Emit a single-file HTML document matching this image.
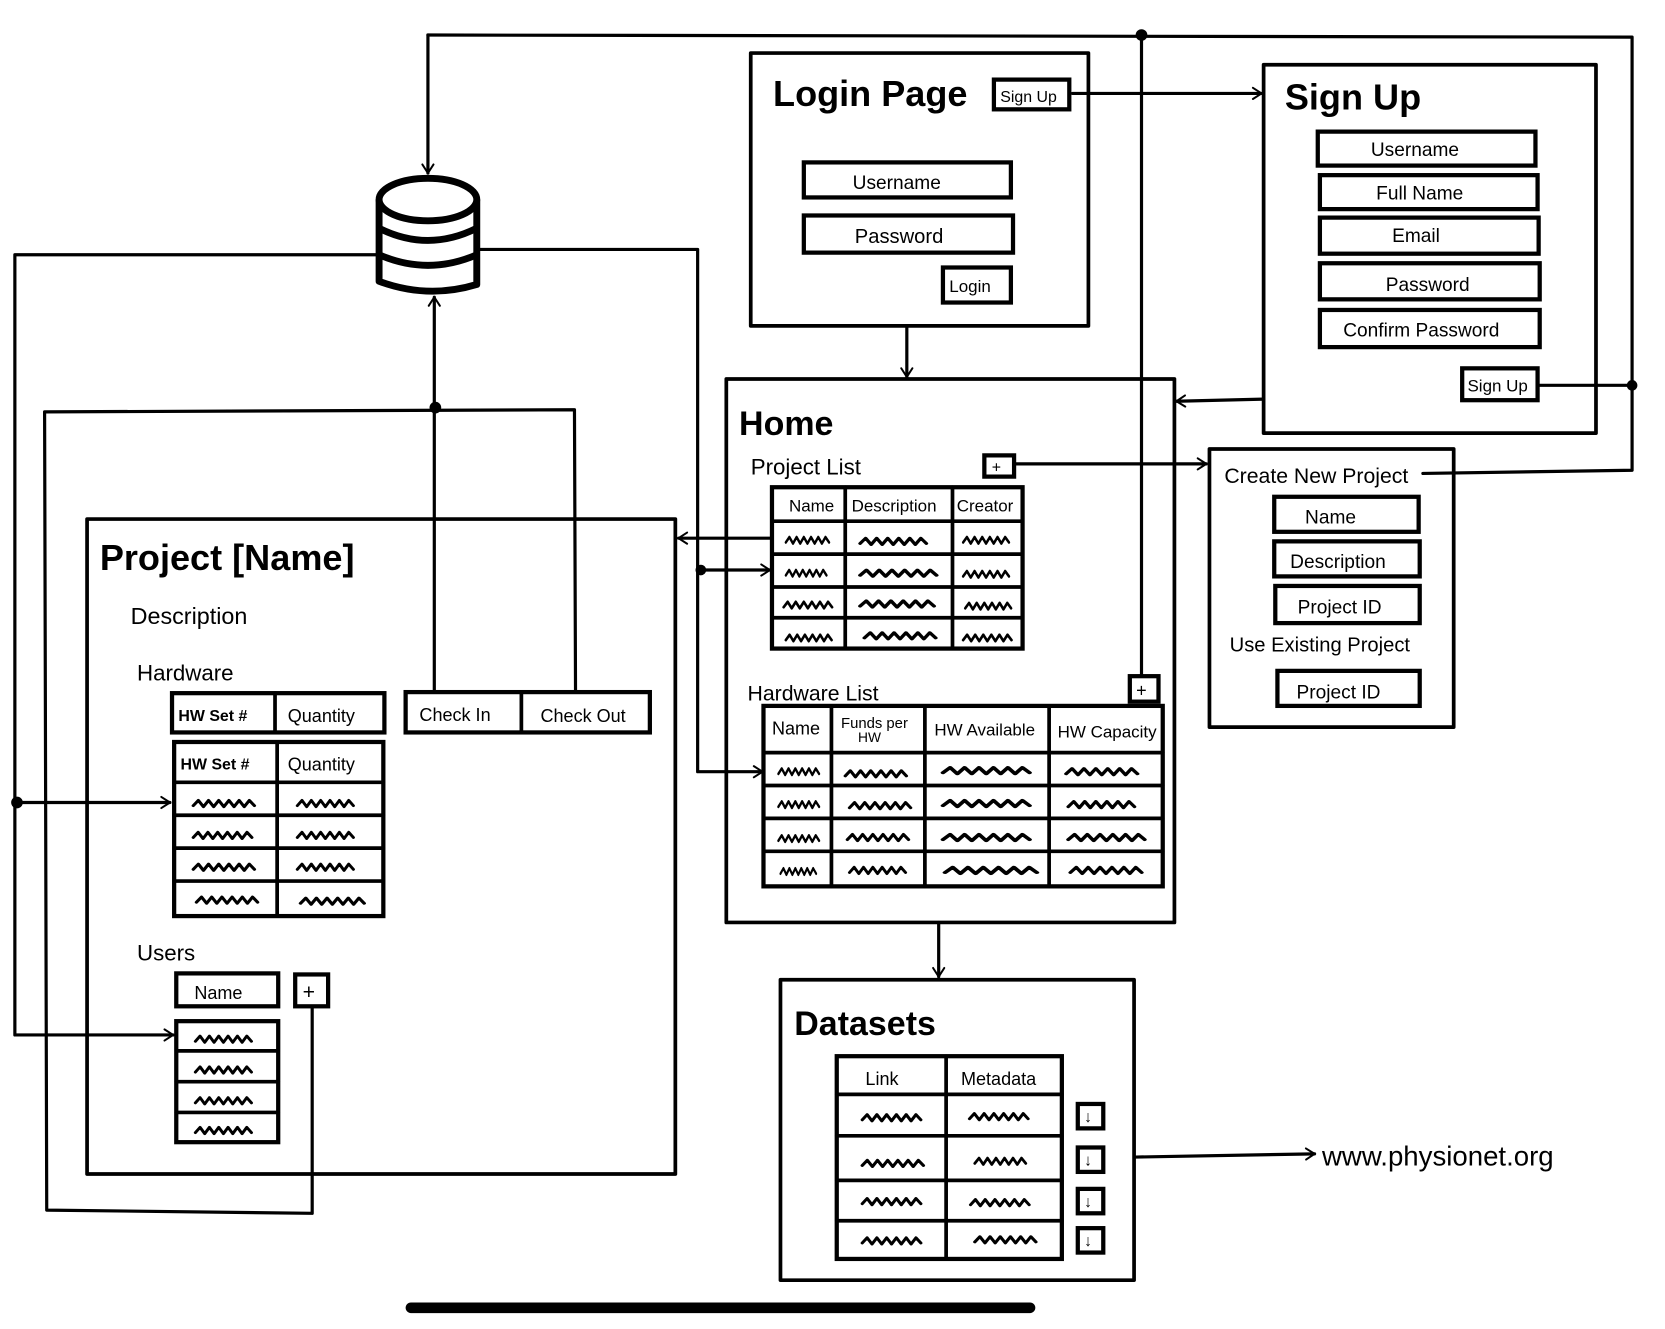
<!DOCTYPE html>
<html><head><meta charset="utf-8"><style>
html,body{margin:0;padding:0;background:#fff;}
svg{display:block;}
text{font-family:"Liberation Sans",sans-serif;fill:#000;}
.b{fill:none;stroke:#000;stroke-width:3.5;stroke-linejoin:round;stroke-linecap:round;}
.t{fill:#fff;stroke:#000;stroke-width:4;}
.l{fill:none;stroke:#000;stroke-width:3;stroke-linecap:round;stroke-linejoin:round;}
.z{fill:none;stroke:#000;stroke-width:2.6;stroke-linecap:round;stroke-linejoin:round;}
</style></head><body>
<svg width="1665" height="1329" viewBox="0 0 1568 1252" preserveAspectRatio="none" xmlns="http://www.w3.org/2000/svg">
<defs>
<path id="zz" class="z" d="M0,3 l4,-5 l4,6 l4,-6 l4,6 l4,-6 l4,6 l4,-6 l4,6 l4,-6 l4,6 l4,-6 l4,5"/>
<marker id="ar" viewBox="0 0 20 20" refX="18" refY="10" markerWidth="9" markerHeight="9" markerUnits="userSpaceOnUse" orient="auto" overflow="visible">
<path d="M4,1 L18,10 L4,19" fill="none" stroke="#000" stroke-width="3.2" stroke-linecap="round" stroke-linejoin="round" transform="scale(1.3) translate(-4,-2.3)"/>
</marker>
</defs>

<!-- connectors -->
<polyline class="l" points="403,33 1537,35 1537,443 1340,446"/>
<line class="l" x1="403" y1="33" x2="403" y2="163" marker-end="url(#ar)"/>
<line class="l" x1="1450" y1="363" x2="1537" y2="363"/>
<circle cx="1537" cy="363" r="5"/>
<circle cx="1075" cy="33" r="5.5"/>
<line class="l" x1="1075" y1="33" x2="1075" y2="637"/>
<polyline class="l" points="357,240 14,240 14,975 163,975" marker-end="url(#ar)"/>
<line class="l" x1="16" y1="756" x2="160" y2="756" marker-end="url(#ar)"/>
<circle cx="16" cy="756" r="5.5"/>
<polyline class="l" points="451,235 657,235 657,727 718,727" marker-end="url(#ar)"/>
<line class="l" x1="660" y1="537" x2="725" y2="537" marker-end="url(#ar)"/>
<circle cx="660" cy="537" r="5"/>
<line class="l" x1="760" y1="507" x2="639" y2="507" marker-end="url(#ar)"/>
<line class="l" x1="409" y1="652" x2="409" y2="280" marker-end="url(#ar)"/>
<circle cx="410" cy="384" r="5.5"/>
<polyline class="l" points="542,652 541,386 42,388 44,1140 294,1143 294,948"/>
<line class="l" x1="1010" y1="88" x2="1188" y2="88" marker-end="url(#ar)"/>
<line class="l" x1="1190" y1="376" x2="1108" y2="378" marker-end="url(#ar)"/>
<line class="l" x1="955" y1="437" x2="1136" y2="437" marker-end="url(#ar)"/>
<line class="l" x1="854" y1="307" x2="854" y2="355" marker-end="url(#ar)"/>
<line class="l" x1="884" y1="869" x2="884" y2="920" marker-end="url(#ar)"/>
<line class="l" x1="1070" y1="1090" x2="1238" y2="1087" marker-end="url(#ar)"/>

<!-- database -->
<g fill="none" stroke="#000" stroke-width="6.5" stroke-linejoin="round">
<path d="M357,188 L357,265 Q403,282 449,268 L449,188" fill="#fff"/>
<ellipse cx="403" cy="188" rx="46" ry="20" fill="#fff"/>
<path d="M357,215 Q403,238 449,215"/>
<path d="M357,240 Q403,260 449,240"/>
</g>

<!-- Project box -->
<rect class="b" x="82" y="489" width="554" height="617" fill="none"/>
<text x="94" y="537" font-size="34" font-weight="bold">Project [Name]</text>
<text x="123" y="588" font-size="22">Description</text>
<text x="129" y="641" font-size="21">Hardware</text>
<rect class="t" x="162" y="653" width="200" height="37"/>
<line class="b" x1="259" y1="653" x2="259" y2="690"/>
<text x="168" y="679" font-size="15" font-weight="bold">HW Set #</text>
<text x="271" y="680" font-size="17">Quantity</text>
<rect class="t" x="382" y="652" width="230" height="38"/>
<line class="b" x1="491" y1="652" x2="491" y2="690"/>
<text x="395" y="679" font-size="17">Check In</text>
<text x="509" y="680" font-size="17">Check Out</text>
<rect class="t" x="164" y="699" width="197" height="164"/>
<g class="b"><line x1="164" y1="737" x2="361" y2="737"/><line x1="164" y1="768" x2="361" y2="768"/><line x1="164" y1="799" x2="361" y2="799"/><line x1="164" y1="830" x2="361" y2="830"/><line x1="261" y1="699" x2="261" y2="863"/></g>
<text x="170" y="725" font-size="15" font-weight="bold">HW Set #</text>
<text x="271" y="726" font-size="17">Quantity</text>
<use href="#zz" transform="translate(182,756) scale(1.2,1)"/><use href="#zz" transform="translate(280,756) scale(1.1,1)"/>
<use href="#zz" transform="translate(182,786) scale(1.15,1)"/><use href="#zz" transform="translate(280,786) scale(1.1,1)"/>
<use href="#zz" transform="translate(182,816) scale(1.2,1)"/><use href="#zz" transform="translate(280,816) scale(1.1,1)"/>
<use href="#zz" transform="translate(185,847) scale(1.2,1)"/><use href="#zz" transform="translate(283,848) scale(1.25,1)"/>
<text x="129" y="905" font-size="21">Users</text>
<rect class="t" x="166" y="917" width="96" height="31"/>
<text x="183" y="941" font-size="17">Name</text>
<rect class="t" x="278" y="918" width="31" height="30"/>
<text x="285" y="941" font-size="20">+</text>
<rect class="t" x="166" y="962" width="96" height="114"/>
<g class="b"><line x1="166" y1="990" x2="262" y2="990"/><line x1="166" y1="1019" x2="262" y2="1019"/><line x1="166" y1="1048" x2="262" y2="1048"/></g>
<use href="#zz" transform="translate(184,978) scale(1.1,1)"/><use href="#zz" transform="translate(184,1007) scale(1.1,1)"/><use href="#zz" transform="translate(184,1036) scale(1.1,1)"/><use href="#zz" transform="translate(184,1064) scale(1.1,1)"/>

<!-- Login -->
<rect class="b" x="707" y="50" width="318" height="257" fill="#fff"/>
<text x="728" y="100" font-size="34" font-weight="bold">Login Page</text>
<rect class="t" x="936" y="75" width="71" height="28"/>
<text x="942" y="96" font-size="15">Sign Up</text>
<rect class="t" x="757" y="153" width="195" height="33"/>
<text x="803" y="178" font-size="18">Username</text>
<rect class="t" x="757" y="203" width="197" height="35"/>
<text x="805" y="229" font-size="19">Password</text>
<rect class="t" x="888" y="252" width="64" height="33"/>
<text x="894" y="275" font-size="16">Login</text>

<!-- Sign Up -->
<rect class="b" x="1190" y="61" width="313" height="347" fill="none"/>
<text x="1210" y="103" font-size="34" font-weight="bold">Sign Up</text>
<rect class="t" x="1241" y="124" width="205" height="32"/><text x="1291" y="147" font-size="18">Username</text>
<rect class="t" x="1243" y="165" width="205" height="32"/><text x="1296" y="188" font-size="18">Full Name</text>
<rect class="t" x="1243" y="205" width="206" height="34"/><text x="1311" y="228" font-size="18">Email</text>
<rect class="t" x="1243" y="248" width="207" height="34"/><text x="1305" y="274" font-size="18">Password</text>
<rect class="t" x="1243" y="292" width="207" height="35"/><text x="1265" y="317" font-size="18">Confirm Password</text>
<rect class="t" x="1377" y="347" width="71" height="30"/><text x="1382" y="369" font-size="16">Sign Up</text>

<!-- Home -->
<rect class="b" x="684" y="357" width="422" height="512" fill="none"/>
<text x="696" y="410" font-size="32" font-weight="bold">Home</text>
<text x="707" y="447" font-size="21">Project List</text>
<rect class="t" x="927" y="429" width="28" height="20"/><text x="934" y="445" font-size="15">+</text>
<rect class="t" x="727" y="459" width="236" height="152"/>
<g class="b"><line x1="727" y1="491" x2="963" y2="491"/><line x1="727" y1="522" x2="963" y2="522"/><line x1="727" y1="553" x2="963" y2="553"/><line x1="727" y1="582" x2="963" y2="582"/><line x1="796" y1="459" x2="796" y2="611"/><line x1="897" y1="459" x2="897" y2="611"/></g>
<text x="743" y="482" font-size="16">Name</text><text x="802" y="482" font-size="16">Description</text><text x="901" y="482" font-size="16">Creator</text>
<use href="#zz" transform="translate(740,508) scale(0.85,1)"/><use href="#zz" transform="translate(810,509) scale(1.3,1)"/><use href="#zz" transform="translate(907,508) scale(0.9,1)"/>
<use href="#zz" transform="translate(740,539) scale(0.8,1)"/><use href="#zz" transform="translate(810,539) scale(1.5,1)"/><use href="#zz" transform="translate(907,540) scale(0.9,1)"/>
<use href="#zz" transform="translate(738,569) scale(0.95,1)"/><use href="#zz" transform="translate(810,568) scale(1.45,1)"/><use href="#zz" transform="translate(909,570) scale(0.9,1)"/>
<use href="#zz" transform="translate(740,600) scale(0.9,1)"/><use href="#zz" transform="translate(814,598) scale(1.4,1)"/><use href="#zz" transform="translate(907,600) scale(0.95,1)"/>
<text x="704" y="660" font-size="20">Hardware List</text>
<rect class="t" x="1064" y="637" width="27" height="24"/><text x="1070" y="656" font-size="17">+</text>
<rect class="t" x="719" y="665" width="376" height="170"/>
<g class="b"><line x1="719" y1="709" x2="1095" y2="709"/><line x1="719" y1="740" x2="1095" y2="740"/><line x1="719" y1="771" x2="1095" y2="771"/><line x1="719" y1="802" x2="1095" y2="802"/><line x1="783" y1="665" x2="783" y2="835"/><line x1="871" y1="665" x2="871" y2="835"/><line x1="988" y1="665" x2="988" y2="835"/></g>
<text x="727" y="692" font-size="17">Name</text>
<text x="792" y="686" font-size="14">Funds per</text><text x="808" y="699" font-size="13">HW</text>
<text x="880" y="693" font-size="16">HW Available</text><text x="996" y="695" font-size="16">HW Capacity</text>
<use href="#zz" transform="translate(733,726) scale(0.8,1)"/><use href="#zz" transform="translate(796,728) scale(1.2,1)"/><use href="#zz" transform="translate(888,725) scale(1.7,1)"/><use href="#zz" transform="translate(1004,726) scale(1.4,1)"/>
<use href="#zz" transform="translate(733,757) scale(0.8,1)"/><use href="#zz" transform="translate(800,758) scale(1.2,1)"/><use href="#zz" transform="translate(888,756) scale(1.7,1)"/><use href="#zz" transform="translate(1006,757) scale(1.3,1)"/>
<use href="#zz" transform="translate(733,789) scale(0.8,1)"/><use href="#zz" transform="translate(798,788) scale(1.2,1)"/><use href="#zz" transform="translate(888,788) scale(1.7,1)"/><use href="#zz" transform="translate(1006,788) scale(1.5,1)"/>
<use href="#zz" transform="translate(735,820) scale(0.7,1)"/><use href="#zz" transform="translate(800,819) scale(1.1,1)"/><use href="#zz" transform="translate(890,819) scale(1.8,1)"/><use href="#zz" transform="translate(1008,819) scale(1.4,1)"/>

<!-- Create New Project -->
<rect class="b" x="1139" y="423" width="230" height="262" fill="none"/>
<text x="1153" y="455" font-size="20">Create New Project</text>
<rect class="t" x="1200" y="468" width="136" height="33"/><text x="1229" y="493" font-size="18">Name</text>
<rect class="t" x="1200" y="510" width="137" height="33"/><text x="1215" y="535" font-size="18">Description</text>
<rect class="t" x="1201" y="552" width="136" height="35"/><text x="1222" y="578" font-size="18">Project ID</text>
<text x="1158" y="614" font-size="19">Use Existing Project</text>
<rect class="t" x="1203" y="632" width="134" height="33"/><text x="1221" y="658" font-size="18">Project ID</text>

<!-- Datasets -->
<rect class="b" x="735" y="923" width="333" height="283" fill="none"/>
<text x="748" y="975" font-size="32" font-weight="bold">Datasets</text>
<rect class="t" x="788" y="995" width="212" height="191"/>
<g class="b"><line x1="788" y1="1031" x2="1000" y2="1031"/><line x1="788" y1="1070" x2="1000" y2="1070"/><line x1="788" y1="1112" x2="1000" y2="1112"/><line x1="788" y1="1150" x2="1000" y2="1150"/><line x1="891" y1="995" x2="891" y2="1186"/></g>
<text x="815" y="1022" font-size="17">Link</text><text x="905" y="1022" font-size="17">Metadata</text>
<use href="#zz" transform="translate(812,1052) scale(1.15,1)"/><use href="#zz" transform="translate(913,1051) scale(1.15,1)"/>
<use href="#zz" transform="translate(812,1095) scale(1.2,1)"/><use href="#zz" transform="translate(918,1093) scale(1.0,1)"/>
<use href="#zz" transform="translate(812,1131) scale(1.15,1)"/><use href="#zz" transform="translate(914,1132) scale(1.15,1)"/>
<use href="#zz" transform="translate(812,1168) scale(1.15,1)"/><use href="#zz" transform="translate(918,1167) scale(1.2,1)"/>
<g font-size="15">
<rect class="t" x="1015" y="1040" width="24" height="23" stroke-width="3"/><text x="1021" y="1057">↓</text>
<rect class="t" x="1015" y="1081" width="24" height="23" stroke-width="3"/><text x="1021" y="1098">↓</text>
<rect class="t" x="1015" y="1120" width="24" height="23" stroke-width="3"/><text x="1021" y="1137">↓</text>
<rect class="t" x="1015" y="1157" width="24" height="23" stroke-width="3"/><text x="1021" y="1174">↓</text>
</g>
<text x="1245" y="1098" font-size="26">www.physionet.org</text>

<!-- bottom bar -->
<line x1="387" y1="1232" x2="970" y2="1232" stroke="#000" stroke-width="10" stroke-linecap="round"/>
</svg>
</body></html>
